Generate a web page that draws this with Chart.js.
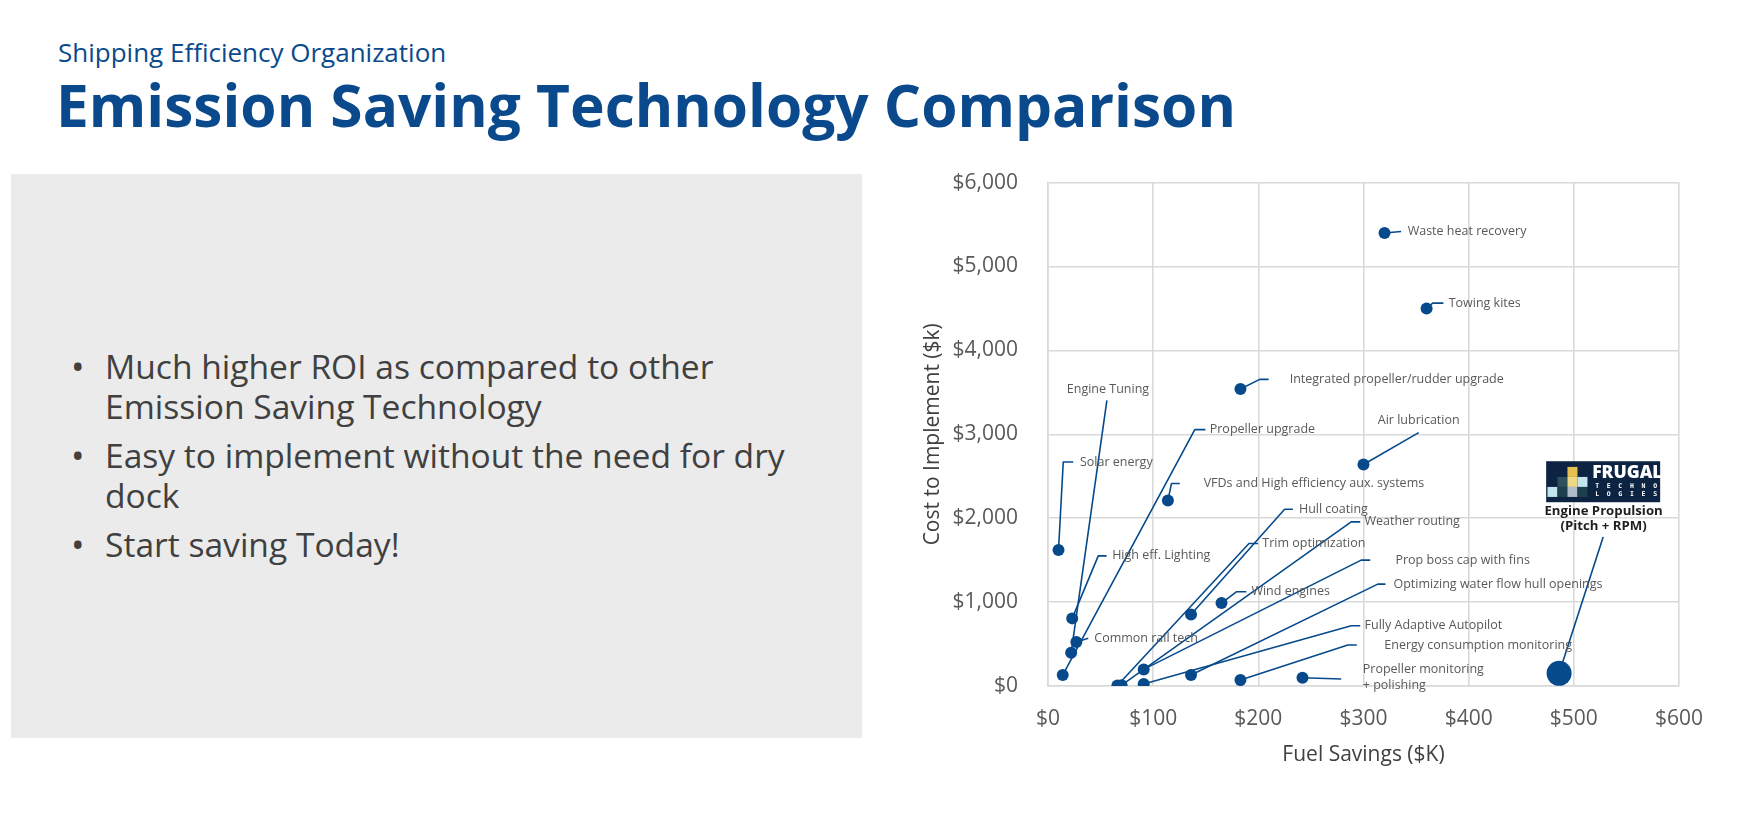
<!DOCTYPE html>
<html><head><meta charset="utf-8">
<script src="https://cdn.jsdelivr.net/npm/chart.js@4.4.0/dist/chart.umd.min.js"></script>
<style>
html,body{margin:0;padding:0;background:#fff;width:1758px;height:814px;overflow:hidden;font-family:'Open Sans',sans-serif;}
.sub{position:absolute;left:58px;top:40px;font-size:26px;line-height:25px;color:#0a4a8c;white-space:nowrap;}
.title{position:absolute;left:56px;top:75px;font-size:58.6px;line-height:58px;font-weight:700;color:#0a4a8c;white-space:nowrap;}
.panel{position:absolute;left:11px;top:174px;width:851px;height:564px;background:#ebebeb;}
.item{position:absolute;left:105px;font-size:33.6px;line-height:39.5px;color:#404040;white-space:nowrap;}
.item span.b{position:absolute;left:-34px;top:0;font-size:36px;}
#wrap{position:absolute;left:880px;top:140px;width:843px;height:640px;}
</style></head>
<body>
<div class="sub">Shipping Efficiency Organization</div>
<div class="title">Emission Saving Technology Comparison</div>
<div class="panel"></div>
<div class="item" style="top:347px"><span class="b">•</span>Much higher ROI as compared to other<br>Emission Saving Technology</div>
<div class="item" style="top:436px"><span class="b">•</span>Easy to implement without the need for dry<br>dock</div>
<div class="item" style="top:525px"><span class="b">•</span>Start saving Today!</div>
<div id="wrap"><canvas id="c" width="843" height="640"></canvas></div>
<script>
// ---- data ----
const techNames = [
  'Waste heat recovery','Towing kites','Integrated propeller/rudder upgrade','Air lubrication',
  'VFDs and High efficiency aux. systems','Solar energy','Engine Tuning','Propeller upgrade',
  'High eff. Lighting','Common rail tech','Hull coating','Weather routing','Trim optimization',
  'Wind engines','Prop boss cap with fins','Optimizing water flow hull openings',
  'Fully Adaptive Autopilot','Energy consumption monitoring','Propeller monitoring\n+ polishing'
];
const fuelSavingsK = [320,360,183,300,114,10,22,14,23,27,136,70,66,165,91,136,91,183,242];
const implementCostK = [5400,4500,3540,2640,2210,1620,396,131,806,524,853,10,5,988,198,131,24,71,99];
const frugalLabel = ['Engine Propulsion','(Pitch + RPM)'];
const frugalFuelK = [486];
const frugalCostK = [151];
const xTickValues = [0,100,200,300,400,500,600];
const yTickValues = [0,1000,2000,3000,4000,5000,6000];

// ---- label placement (data units) ----
const kneeX = [335.8,365.8,201.3,352.5,117.4,14.5,56,139.6,47.8,38.3,225,288.3,191.1,179.1,297.8,313.6,288.3,285.1,278.8];
const kneeY = [5417,4563,3655,3020,2413,2670,3405,3056,1551,568,2107,1956,1699,1123,1500,1214,718,488,83];
const tailX = [335.8,376,209.8,352.5,125.3,24,56,149.7,55.7,38.3,232.9,296.9,199.7,188.6,306.4,320.9,296.9,293.6,278.8];
const textX = [342,381,229.8,352.5,148,30.4,57,153.8,61,44,238.6,301,203.8,193.4,330.4,328.5,301,319.8,299.3];
const textY = [5417,4563,3655,3167,2413,2670,3536,3056,1551,568,2107,1956,1699,1123,1500,1214,718,488,199];
const textAlign = ['left','left','left','center','left','left','center','left','left','left','left','left','left','left','left','left','left','left','left'];
const frugalLeaderEnd = [527.9,1777];
const frugalTextPos = [528.3,2087,1908];
const frugalLogoPos = [473.7,2679];

const DOT = '#064a8c';
const FONT = "'Open Sans', sans-serif";

const leaderPlugin = {
  id:'leaders',
  beforeDatasetsDraw(chart){
    const {ctx, scales:{x,y}} = chart;
    ctx.save();
    ctx.strokeStyle = DOT; ctx.lineWidth = 1.6; ctx.lineJoin='round';
    for (let i=0;i<techNames.length;i++){
      ctx.beginPath();
      ctx.moveTo(x.getPixelForValue(fuelSavingsK[i]), y.getPixelForValue(implementCostK[i]));
      ctx.lineTo(x.getPixelForValue(kneeX[i]), y.getPixelForValue(kneeY[i]));
      ctx.lineTo(x.getPixelForValue(tailX[i]), y.getPixelForValue(kneeY[i]));
      ctx.stroke();
    }
    ctx.beginPath();
    ctx.moveTo(x.getPixelForValue(frugalFuelK[0]), y.getPixelForValue(frugalCostK[0]));
    ctx.lineTo(x.getPixelForValue(frugalLeaderEnd[0]), y.getPixelForValue(frugalLeaderEnd[1]));
    ctx.stroke();
    ctx.restore();
  },
  afterDatasetsDraw(chart){
    const {ctx, scales:{x,y}} = chart;
    ctx.save();
    ctx.font = "12.5px " + FONT;
    ctx.fillStyle = '#595959';
    ctx.textBaseline = 'middle';
    for (let i=0;i<techNames.length;i++){
      ctx.textAlign = textAlign[i];
      const lines = techNames[i].split('\n');
      const px = x.getPixelForValue(textX[i]);
      const py = y.getPixelForValue(textY[i]);
      lines.forEach((t,k)=>ctx.fillText(t, px, py + k*16));
    }
    // Frugal logo
    const lx = x.getPixelForValue(frugalLogoPos[0]);
    const ly = y.getPixelForValue(frugalLogoPos[1]);
    const W = 114, H = 41;
    ctx.fillStyle = '#0c2341';
    ctx.fillRect(lx, ly, W, H);
    const blocks = [
      [21.3,5.7,'#e3c04f'],
      [11.3,15.7,'#2f4f5c'],[21.3,15.7,'#eed888'],[31.3,15.7,'#c3e6ee'],
      [1.3,25.7,'#c3e6ee'],[11.3,25.7,'#1f3f4c'],[21.3,25.7,'#aebccb'],[31.3,25.7,'#1f3f4c']
    ];
    blocks.forEach(b=>{ctx.fillStyle=b[2]; ctx.fillRect(lx+b[0], ly+b[1], 10, 10);});
    ctx.fillStyle = '#ffffff';
    ctx.textAlign = 'left';
    ctx.textBaseline = 'middle';
    ctx.font = "800 17.5px " + FONT;
    ctx.fillText('FRUGAL', lx+46, ly+12);
    ctx.font = "700 6.5px 'DejaVu Sans Mono', monospace";
    const t1 = 'TECHNO', t2 = 'LOGIES';
    for (let k=0;k<6;k++){
      ctx.fillText(t1[k], lx+49 + k*11.6, ly+25);
      ctx.fillText(t2[k], lx+49 + k*11.6, ly+33.5);
    }
    ctx.fillStyle = '#1f1f1f';
    ctx.textAlign = 'center';
    ctx.font = "700 13.2px " + FONT;
    const fx = x.getPixelForValue(frugalTextPos[0]);
    ctx.fillText(frugalLabel[0], fx, y.getPixelForValue(frugalTextPos[1]));
    ctx.fillText(frugalLabel[1], fx, y.getPixelForValue(frugalTextPos[2]));
    ctx.restore();
  }
};

const money = v => '$' + Number(v).toLocaleString('en-US');

new Chart(document.getElementById('c'), {
  type: 'scatter',
  data: {
    datasets: [
      {
        data: fuelSavingsK.map((v,i)=>({x:v, y:implementCostK[i]})),
        backgroundColor: DOT, borderColor: DOT, borderWidth: 0,
        pointRadius: 6, pointHoverRadius: 6
      },
      {
        data: frugalFuelK.map((v,i)=>({x:v, y:frugalCostK[i]})),
        backgroundColor: DOT, borderColor: DOT, borderWidth: 0,
        pointRadius: 12.5, pointHoverRadius: 12.5
      }
    ]
  },
  options: {
    responsive: false,
    devicePixelRatio: 1,
    animation: false,
    events: [],
    layout: { padding: { left: 0, right: 30, top: 42, bottom: 0 } },
    plugins: { legend: { display: false }, tooltip: { enabled: false } },
    scales: {
      x: {
        type: 'linear', min: 0, max: 600,
        afterBuildTicks: s => { s.ticks = xTickValues.map(v=>({value:v})); },
        afterFit: s => { s.height = 94; },
        ticks: { padding: 20, color: '#595959', font: { size: 21, family: FONT }, callback: money, maxRotation: 0 },
        grid: { color: '#d9d9d9', lineWidth: 1.6, drawTicks: false },
        border: { color: '#d9d9d9', width: 1.6 },
        title: { display: true, text: 'Fuel Savings ($K)', color: '#404040', font: { size: 21, family: FONT }, padding: { top: 0, bottom: 12 } }
      },
      y: {
        type: 'linear', min: 0, max: 6000,
        afterBuildTicks: s => { s.ticks = yTickValues.map(v=>({value:v})); },
        afterFit: s => { s.width = 168; },
        ticks: { padding: 30, color: '#595959', font: { size: 21, family: FONT }, callback: money },
        grid: { color: '#d9d9d9', lineWidth: 1.6, drawTicks: false },
        border: { color: '#d9d9d9', width: 1.6 },
        title: { display: true, text: 'Cost to Implement ($k)', color: '#404040', font: { size: 21, family: FONT }, padding: { top: 40, bottom: 0 } }
      }
    }
  },
  plugins: [leaderPlugin]
});
</script>
</body></html>
